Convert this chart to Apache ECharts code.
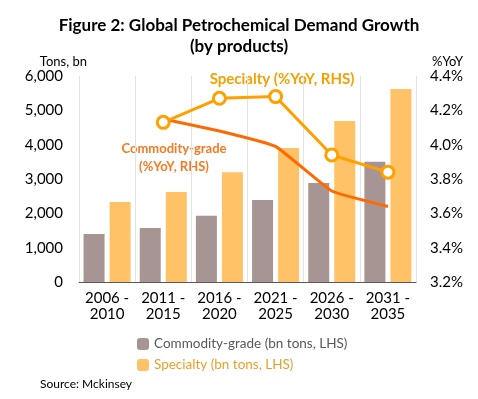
<!DOCTYPE html>
<html>
<head>
<meta charset="utf-8">
<script src="https://cdn.jsdelivr.net/npm/echarts@6/dist/echarts.min.js"></script>
<style>
  html, body { margin: 0; padding: 0; background: #fff; }
  #chart { width: 478px; height: 399px; }
</style>
</head>
<body>
<div id="chart"></div>
<script>
// periods
var periods = ['2006 -\n2010', '2011 -\n2015', '2016 -\n2020', '2021 -\n2025', '2026 -\n2030', '2031 -\n2035'];
// bn tons, left axis
var commodityTons = [1400, 1570, 1930, 2390, 2880, 3500];
var specialtyTons = [2330, 2620, 3200, 3900, 4690, 5620];
// %YoY, right axis (no value for first period)
var commodityYoY = [null, 4.15, 4.08, 3.99, 3.73, 3.64];
var specialtyYoY = [null, 4.13, 4.27, 4.28, 3.94, 3.84];

var font = 'Lato, "Open Sans", sans-serif';

var chart = echarts.init(document.getElementById('chart'));

var option = {
    animation: false,
    textStyle: { fontFamily: font },
    title: {
        text: 'Figure 2: Global Petrochemical Demand Growth\n(by products)',
        left: 'center',
        top: 10,
        textStyle: { fontSize: 17, fontWeight: 'bold', color: '#000', lineHeight: 21, fontFamily: font }
    },
    grid: { left: 79, right: 62, top: 76, bottom: 117 },
    legend: {
        orient: 'vertical',
        left: 132,
        top: 332,
        itemWidth: 12,
        itemHeight: 12,
        itemGap: 7,
        data: [
            { name: 'Commodity-grade (bn tons, LHS)', textStyle: { color: '#595959' } },
            { name: 'Specialty (bn tons, LHS)', textStyle: { color: '#E8A02A' } }
        ],
        textStyle: { fontSize: 13.5, fontFamily: font }
    },
    xAxis: {
        type: 'category',
        data: periods,
        axisLine: { lineStyle: { color: '#595959', width: 1 } },
        axisTick: { show: false },
        splitLine: { show: true, interval: 0, lineStyle: { color: '#E3E3E3', width: 1 } },
        axisLabel: { interval: 0, color: '#000', fontSize: 15, lineHeight: 16, margin: 8, fontFamily: font }
    },
    yAxis: [
        {
            type: 'value', min: 0, max: 6000, interval: 1000,
            name: 'Tons, bn', nameGap: 8,
            nameTextStyle: { color: '#000', fontSize: 13, align: 'right', padding: [0, -8, 0, 0] },
            axisLine: { show: false }, axisTick: { show: false }, splitLine: { show: false },
            axisLabel: {
                color: '#000', fontSize: 15, margin: 16,
                formatter: function (v) { return v.toLocaleString('en-US'); }
            }
        },
        {
            type: 'value', min: 3.2, max: 4.4, interval: 0.2,
            name: '%YoY', nameGap: 8,
            nameTextStyle: { color: '#000', fontSize: 13, align: 'left', padding: [0, 0, 0, 16] },
            axisLine: { show: false }, axisTick: { show: false }, splitLine: { show: false },
            axisLabel: {
                color: '#000', fontSize: 15, margin: 14,
                formatter: function (v) { return v.toFixed(1) + '%'; }
            }
        }
    ],
    series: [
        {
            name: 'Commodity-grade (bn tons, LHS)', type: 'bar',
            data: commodityTons, barWidth: 21, barGap: '24%',
            itemStyle: { color: '#A69592' }
        },
        {
            name: 'Specialty (bn tons, LHS)', type: 'bar',
            data: specialtyTons, barWidth: 21,
            itemStyle: { color: '#FFC266' }
        },
        {
            name: 'Commodity-grade (%YoY, RHS)', type: 'line', yAxisIndex: 1,
            data: commodityYoY, smooth: 0.1, showSymbol: false,
            lineStyle: { color: '#FF6A00', width: 3 }, itemStyle: { color: '#FF6A00' }
        },
        {
            name: 'Specialty (%YoY, RHS)', type: 'line', yAxisIndex: 1,
            data: specialtyYoY, symbol: 'circle', symbolSize: 12,
            lineStyle: { color: '#FFA000', width: 3 },
            itemStyle: { color: '#fff', borderColor: '#FFA000', borderWidth: 3 }
        }
    ],
    graphic: [
        {
            type: 'text', x: 282, y: 79,
            style: {
                text: 'Specialty (%YoY, RHS)', fill: '#F5A000', font: 'bold 15px ' + font,
                align: 'center', verticalAlign: 'middle'
            }
        },
        {
            type: 'text', x: 174, y: 158,
            style: {
                text: 'Commodity-grade\n(%YoY, RHS)', fill: '#F57A22', font: 'bold 13px ' + font,
                align: 'center', verticalAlign: 'middle', lineHeight: 18
            }
        },
        {
            type: 'text', x: 40, y: 384,
            style: { text: 'Source: Mckinsey', fill: '#000', font: '12px ' + font, verticalAlign: 'middle' }
        }
    ]
};

chart.setOption(option);
</script>
</body>
</html>
